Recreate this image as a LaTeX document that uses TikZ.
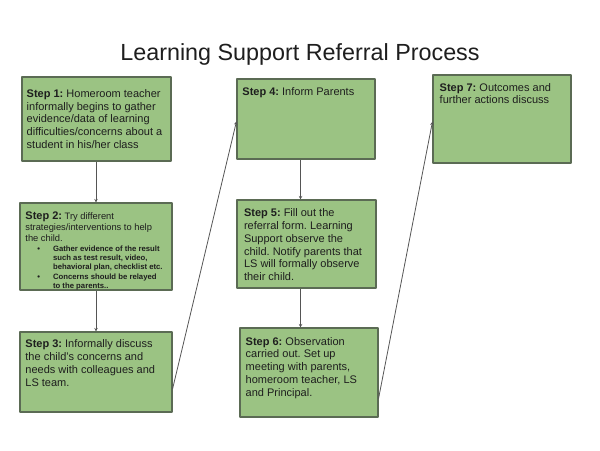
\documentclass[tikz,border=0pt]{standalone}
\usepackage{fontspec}
\setmainfont{Liberation Sans}
\frenchspacing
\usetikzlibrary{arrows.meta,calc,positioning}
\definecolor{boxgreen}{HTML}{9BC383}
\definecolor{boxline}{HTML}{5B6B54}
\definecolor{linkgray}{HTML}{555555}
\definecolor{inkdark}{HTML}{1E1E1E}
\tikzset{
  stepbox/.style={draw=boxline,fill=boxgreen,line width=0.8pt,inner sep=0pt},
  boxsize/.style 2 args={minimum width=#1*0.75pt,minimum height=#2*0.75pt},
  steptext/.style={anchor=north west,inner sep=0pt,align=left,text=inkdark,font=\fontsize{8.25}{9.6}\selectfont},
  link/.style={draw=linkgray,line width=0.6pt,-{Stealth[length=2.6pt,width=2.6pt]}}
}
\begin{document}
\begin{tikzpicture}[x=0.75pt,y=-0.75pt,line join=round]
\useasboundingbox (0,0) rectangle (600,450);
\node[anchor=base,font=\fontsize{17.5}{20}\selectfont,text=inkdark] (title) at (300,60) {Learning Support Referral Process};
% boxes
\node[stepbox,boxsize={149}{84}] (s1) at (96.5,119) {};
\node[stepbox,boxsize={152}{87}] (s2) at (96,246.5) {};
\node[stepbox,boxsize={152}{80}] (s3) at (96,372) {};
\node[stepbox,boxsize={138}{80}] (s4) at (306,119) {};
\node[stepbox,boxsize={139}{88}] (s5) at (306.5,244) {};
\node[stepbox,boxsize={138}{89}] (s6) at (309,372.5) {};
\node[stepbox,boxsize={138}{88}] (s7) at (502,119) {};
% texts
\node[steptext] (t1) at ($(s1.north west)+(5,12.5)$) {\textbf{Step 1:} Homeroom teacher\\informally begins to gather\\evidence/data of learning\\difficulties/concerns about a\\student in his/her class};
\node[steptext,font=\fontsize{7}{8.25}\selectfont] (t2) at ($(s2.north west)+(5.7,8.7)$) {{\fontsize{8.25}{8.25}\selectfont\bfseries Step 2:} Try different\\strategies/interventions to help\\the child.};
\node[steptext,font=\fontsize{5.8}{7}\selectfont\bfseries] (t2b) at ($(s2.north west)+(5.7,42.7)$) {\makebox[20.7pt][l]{\hspace{8.9pt}\textbullet}Gather evidence of the result\\\hspace*{20.7pt}such as test result, video,\\\hspace*{20.7pt}behavioral plan, checklist etc.\\\makebox[20.7pt][l]{\hspace{8.9pt}\textbullet}Concerns should be relayed\\\hspace*{20.7pt}to the parents..};
\node[steptext] (t3) at ($(s3.north west)+(5.7,8)$) {\textbf{Step 3:} Informally discuss\\the child's concerns and\\needs with colleagues and\\LS team.};
\node[steptext] (t4) at ($(s4.north west)+(5.7,9)$) {\textbf{Step 4:} Inform Parents};
\node[steptext] (t5) at ($(s5.north west)+(7.3,9)$) {\textbf{Step 5:} Fill out the\\referral form. Learning\\Support observe the\\child. Notify parents that\\LS will formally observe\\their child.};
\node[steptext] (t6) at ($(s6.north west)+(6,9.3)$) {\textbf{Step 6:} Observation\\carried out. Set up\\meeting with parents,\\homeroom teacher, LS\\and Principal.};
\node[steptext] (t7) at ($(s7.north west)+(7,8.3)$) {\textbf{Step 7:} Outcomes and\\further actions discuss};
% connectors
\foreach \a/\b/\x in {s1/s2/96,s2/s3/96,s4/s5/300.5,s5/s6/300.5}{\coordinate (ax) at (\x,0); \draw[link] (\a.south -| ax) -- (\b.north -| ax);}
\draw[link] ($(s3.south east)!0.29!(s3.north east)$) -- ($(s4.north west)!0.53!(s4.south west)$);
\draw[link] ($(s6.north east)!0.79!(s6.south east)$) -- ($(s7.north west)!0.53!(s7.south west)$);
\end{tikzpicture}
\end{document}
